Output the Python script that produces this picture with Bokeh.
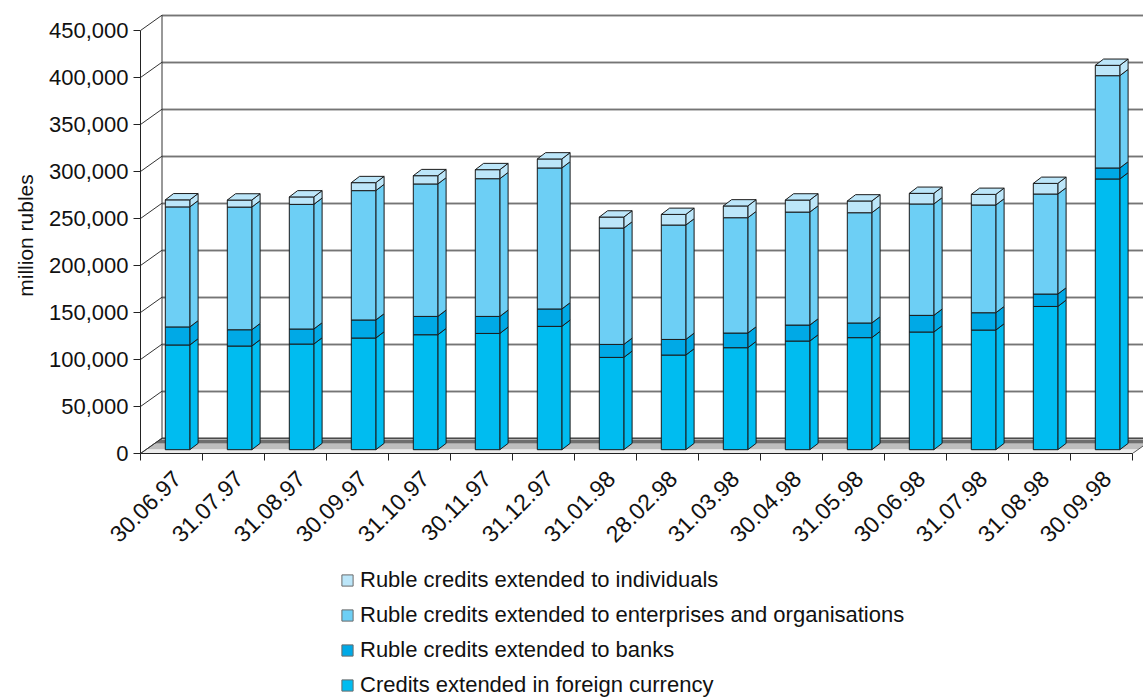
import math
from bokeh.plotting import figure
from bokeh.layouts import column, row
from bokeh.models import (Range1d, FixedTicker, NumeralTickFormatter, Legend,
                          LegendItem, ColumnDataSource)
from bokeh.core.properties import value
from bokeh.embed import file_html
from bokeh.resources import INLINE

# ---------------- data (million rubles) ----------------
dates = ["30.06.97", "31.07.97", "31.08.97", "30.09.97", "31.10.97", "30.11.97",
         "31.12.97", "31.01.98", "28.02.98", "31.03.98", "30.04.98", "31.05.98",
         "30.06.98", "31.07.98", "31.08.98", "30.09.98"]
foreign_currency = [111400, 110300, 112400, 118800, 122300, 123700, 131200, 98200,
                    100700, 108500, 115600, 119200, 125200, 127300, 152400, 288000]
banks = [19200, 17300, 16000, 19200, 19500, 18100, 18500, 13800,
         16600, 15600, 17000, 15600, 17700, 18400, 13200, 11700]
enterprises = [127700, 130500, 132600, 137600, 140900, 146500, 150000, 123800,
               121700, 122700, 120200, 117300, 118500, 114600, 106400, 98200]
individuals = [7500, 7500, 7900, 8500, 8800, 9600, 9600, 11700,
               11300, 12500, 12800, 12500, 11300, 11300, 11300, 11000]

series_names = ["Credits extended in foreign currency",
                "Ruble credits extended to banks",
                "Ruble credits extended to enterprises and organisations",
                "Ruble credits extended to individuals"]
series_values = [foreign_currency, banks, enterprises, individuals]
series_colors = ["#00BCF0", "#00A9E6", "#6DCFF5", "#BCE6F9"]

y_ticks = list(range(0, 450001, 50000))
y_title = "million rubles"

# ---------------- geometry (pixels -> data units) ----------------
PAGE_W, PAGE_H = 1143, 697
TITLE_W = 40
FIG_W = PAGE_W - TITLE_W
CHART_H, LEGEND_H = 560, 137
BORDER_L = 100
FRAME_BOTTOM = 453
BORDER_B = CHART_H - FRAME_BOTTOM
FRAME_W = FIG_W - BORDER_L
FRAME_H = FRAME_BOTTOM
PX_CAT = 62.0                 # px per category
PX_PER_UNIT = 47.0 / 50000.0  # px per million rubles
CAT_OFF = 0.585               # label tick position inside category


def dx(px):
    return px / PX_CAT


def dy(px):
    return px / PX_PER_UNIT


n = len(dates)
x0 = -CAT_OFF
x_end = x0 + FRAME_W / PX_CAT
y_end = FRAME_H / PX_PER_UNIT

WALL_DX, WALL_DY = dx(21.5), dy(15.3)
BAR_L, BAR_W = x0 + 0.40, dx(24.5)
BAR_DX, BAR_DY = dx(8.3), dy(6.3)
BAR_LIFT = dy(3.8)

FONT = "Liberation Sans"
TXT = "#111111"
EDGE = "#1A1A1A"

p = figure(width=FIG_W, height=CHART_H, output_backend="svg", toolbar_location=None,
           x_range=Range1d(x0, x_end), y_range=Range1d(0, y_end),
           min_border_left=BORDER_L, min_border_right=0, min_border_top=0,
           min_border_bottom=BORDER_B)
p.outline_line_color = None
p.xgrid.visible = False
p.ygrid.visible = False
p.background_fill_color = "white"
p.border_fill_color = "white"

# ---------------- floor ----------------
floor_x_right = x0 + n
bands = [(0.0, 0.27, "#ECECEC"), (0.27, 0.65, "#BEBEBE"), (0.65, 1.0, "#6E6E6E")]
fx, fy, fc = [], [], []
for f0, f1, c in bands:
    fx.append([x0 + f0 * WALL_DX, floor_x_right + f0 * WALL_DX,
               floor_x_right + f1 * WALL_DX, x0 + f1 * WALL_DX])
    fy.append([f0 * WALL_DY, f0 * WALL_DY, f1 * WALL_DY, f1 * WALL_DY])
    fc.append(c)
p.patches(fx, fy, fill_color=fc, line_color=None)
p.patch([x0, floor_x_right, floor_x_right + WALL_DX, x0 + WALL_DX],
        [0, 0, WALL_DY, WALL_DY], fill_color=None, line_color="#555555", line_width=1)

# ---------------- walls / gridlines ----------------
gx0 = [x0 for v in y_ticks]
gy0 = [v for v in y_ticks]
gx1 = [x0 + WALL_DX for v in y_ticks]
gy1 = [v + WALL_DY for v in y_ticks]
far = [x_end + 1] * len(y_ticks)
p.segment(x0=gx1, y0=[v - dy(1.2) for v in gy1], x1=far, y1=[v - dy(1.2) for v in gy1],
          line_color="#BBBBBB", line_width=1)
p.segment(x0=gx0, y0=gy0, x1=gx1, y1=gy1, line_color="#333333", line_width=1)
p.segment(x0=gx1, y0=gy1, x1=far, y1=gy1, line_color="#3A3A3A", line_width=1)
p.segment(x0=[x0 + WALL_DX], y0=[WALL_DY], x1=[x0 + WALL_DX], y1=[y_ticks[-1] + WALL_DY],
          line_color="#333333", line_width=1)

# ---------------- bars ----------------
cum = [BAR_LIFT] * n
for s_idx, (name, vals, col) in enumerate(zip(series_names, series_values, series_colors)):
    lefts = [k + BAR_L for k in range(n)]
    rights = [k + BAR_L + BAR_W for k in range(n)]
    bottoms = list(cum)
    tops = [b + v for b, v in zip(bottoms, vals)]
    sx, sy = [], []
    for k in range(n):
        r = rights[k]
        sx.append([r, r + BAR_DX, r + BAR_DX, r])
        sy.append([bottoms[k], bottoms[k] + BAR_DY, tops[k] + BAR_DY, tops[k]])
    p.patches(sx, sy, fill_color=col, line_color=EDGE, line_width=1)
    src = ColumnDataSource(dict(left=lefts, right=rights, bottom=bottoms, top=tops))
    p.quad(left="left", right="right", bottom="bottom", top="top", source=src,
           fill_color=col, line_color=EDGE, line_width=1)
    if s_idx == len(series_names) - 1:
        tx, ty = [], []
        for k in range(n):
            l, r, t = lefts[k], rights[k], tops[k]
            tx.append([l, r, r + BAR_DX, l + BAR_DX])
            ty.append([t, t, t + BAR_DY, t + BAR_DY])
        p.patches(tx, ty, fill_color=col, line_color=EDGE, line_width=1)
    cum = tops

# ---------------- axes ----------------
ya = p.yaxis[0]
ya.ticker = FixedTicker(ticks=y_ticks)
ya.formatter = NumeralTickFormatter(format="0,0")
ya.bounds = (0, y_ticks[-1])
ya.major_tick_out = 7
ya.major_tick_in = 0
ya.minor_tick_out = 0
ya.minor_tick_in = 0
ya.major_label_standoff = 5
ya.major_label_text_font = FONT
ya.major_label_text_font_size = "22px"
ya.major_label_text_color = TXT
ya.axis_line_color = "#222222"
ya.major_tick_line_color = "#222222"

xa = p.xaxis[0]
xa.ticker = FixedTicker(ticks=list(range(n)), minor_ticks=[x0 + k for k in range(n + 1)])
xa.major_label_overrides = {k: d for k, d in enumerate(dates)}
xa.bounds = (x0, x0 + n)
xa.major_tick_out = 0
xa.major_tick_in = 0
xa.minor_tick_out = 7
xa.minor_tick_in = 0
xa.minor_tick_line_color = "#222222"
xa.major_label_orientation = math.pi / 4
xa.major_label_standoff = 14
xa.major_label_text_font = FONT
xa.major_label_text_font_size = "23px"
xa.major_label_text_color = TXT
xa.axis_line_color = "#222222"

# ---------------- y-axis title strip (left) ----------------
tf = figure(width=TITLE_W, height=PAGE_H, output_backend="svg", toolbar_location=None,
            x_range=Range1d(0, TITLE_W), y_range=Range1d(PAGE_H, 0),
            min_border_left=0, min_border_right=0, min_border_top=0, min_border_bottom=0)
tf.axis.visible = False
tf.grid.visible = False
tf.outline_line_color = None
tf.border_fill_color = "white"
tf.text(x=[25], y=[235], text=[y_title], angle=math.pi / 2, text_align="center",
        text_baseline="alphabetic", text_font=value(FONT), text_font_size="21px",
        text_color=TXT)

# ---------------- legend (strip below the chart) ----------------
lg = figure(width=FIG_W, height=LEGEND_H, output_backend="svg", toolbar_location=None,
            x_range=Range1d(0, 1), y_range=Range1d(0, 1),
            min_border_left=BORDER_L, min_border_right=0, min_border_top=0,
            min_border_bottom=0)
lg.axis.visible = False
lg.grid.visible = False
lg.outline_line_color = None
lg.border_fill_color = "white"
lg_items = []
for name, col in zip(reversed(series_names), reversed(series_colors)):
    # legend swatch renderer (its single point lies outside the visible range)
    r = lg.quad(left=[-3], right=[-2], bottom=[-3], top=[-2], fill_color=col,
                line_color="#6A6A6A", line_width=1)
    lg_items.append(LegendItem(label=name, renderers=[r]))
legend = Legend(items=lg_items, location=(200, -1), orientation="vertical",
                glyph_width=14, glyph_height=14, label_standoff=6, spacing=9,
                padding=0, margin=0, border_line_color=None,
                background_fill_alpha=0, label_text_font=FONT,
                label_text_font_size="22px", label_text_color=TXT)
lg.add_layout(legend, "center")

layout = row(tf, column(p, lg, spacing=0), spacing=0)
open("out.html", "w").write(file_html(layout, INLINE))
